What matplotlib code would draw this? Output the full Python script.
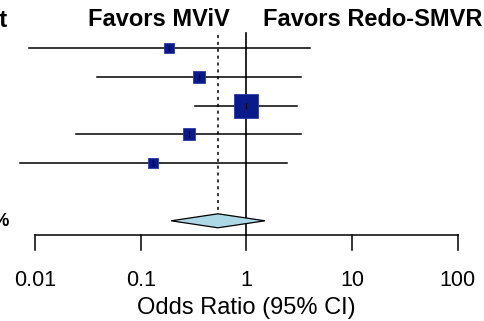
#!/usr/bin/env python3
"""Forest plot: MViV vs Redo-SMVR, odds ratios on a log axis."""
import matplotlib

matplotlib.use("Agg")
import matplotlib.pyplot as plt
import numpy as np
from matplotlib.transforms import blended_transform_factory

plt.rcParams["font.family"] = ["Liberation Sans", "DejaVu Sans"]

# ---------------------------------------------------------------------------
# data
# ---------------------------------------------------------------------------
or_est = [0.185, 0.356, 1.0, 0.286, 0.13]
ci_low = [0.0088, 0.0387, 0.327, 0.0244, 0.0072]
ci_high = [4.0, 3.29, 3.01, 3.29, 2.42]
weights = [9.2, 15.5, 52.9, 13.2, 9.2]

pooled_est = 0.538
pooled_low = 0.194
pooled_high = 1.50

tick_vals = [0.01, 0.1, 1, 10, 100]
tick_labels = ["0.01", "0.1", "1", "10", "100"]

# ---------------------------------------------------------------------------
# layout (pixel based, figure 485 x 321 @ 100 dpi)
# ---------------------------------------------------------------------------
W, H = 485, 321
DECADE_PX = 105.7
X_001_PX = 35.0
ROW0_Y, ROW_STEP = 48.0, 28.8
AXIS_Y, TICK_LEN = 235.0, 15.0
PX2PT = 0.72


def log_lim(px: float) -> float:
    return 10 ** (-2 + (px - X_001_PX) / DECADE_PX)


fig = plt.figure(figsize=(W / 100, H / 100), dpi=100)
ax = fig.add_axes([0, 0, 1, 1])
ax.set_xscale("log")
ax.set_xlim(log_lim(0), log_lim(W))
ax.set_ylim(H, 0)
ax.axis("off")

rows_y = [ROW0_Y + i * ROW_STEP for i in range(len(or_est))]
pool_y = ROW0_Y + 6 * ROW_STEP

# reference line at 1 and dotted pooled-estimate line
ax.plot([1, 1], [33, AXIS_Y], color="black", lw=1.2, zorder=1)
ax.plot([pooled_est, pooled_est], [35, pool_y - 7], color="black", lw=1.1,
        ls=(0, (2, 2.5)), zorder=1)

# study rows
max_side = 24.0
for y, est, lo, hi, w in zip(rows_y, or_est, ci_low, ci_high, weights):
    ax.plot([lo, hi], [y, y], color="black", lw=1.1, zorder=2)
    side = max_side * np.sqrt(w / max(weights))
    ax.plot([est], [y], marker="s", ms=side * PX2PT, color="#0a1a8a",
            mec="#2a3aa8", mew=0.6, zorder=3)
    ax.plot([est], [y], marker="|", ms=5, color="black", mew=0.9, zorder=4)

# pooled diamond
dx = [pooled_low, pooled_est, pooled_high, pooled_est, pooled_low]
dy = [pool_y, pool_y - 7, pool_y, pool_y + 7, pool_y]
ax.fill(dx, dy, facecolor="#add8e6", edgecolor="black", lw=0.9, zorder=3)

# x axis
ax.plot([tick_vals[0], tick_vals[-1]], [AXIS_Y, AXIS_Y], color="black",
        lw=1.1, zorder=2)
for v, lab in zip(tick_vals, tick_labels):
    ax.plot([v, v], [AXIS_Y, AXIS_Y + TICK_LEN], color="black", lw=1.1)
    ax.text(v, 281, lab, ha="center", va="center", fontsize=15.5)
ax.text(1, 308, "Odds Ratio (95% CI)", ha="center", va="center",
        fontsize=17)

# headers
trans = blended_transform_factory(ax.transAxes, ax.transData)
ax.text(230 / W, 20, "Favors MViV", transform=trans, ha="right",
        va="center", fontsize=17, fontweight="bold")
ax.text(263 / W, 20, "Favors Redo-SMVR", transform=trans, ha="left",
        va="center", fontsize=17, fontweight="bold")
ax.text(8 / W, 20, "Weight", transform=trans, ha="right", va="center",
        fontsize=17, fontweight="bold")
ax.text(10 / W, 221, "100%", transform=trans, ha="right", va="center",
        fontsize=13, fontweight="bold")

fig.savefig("out.png", dpi=100)
